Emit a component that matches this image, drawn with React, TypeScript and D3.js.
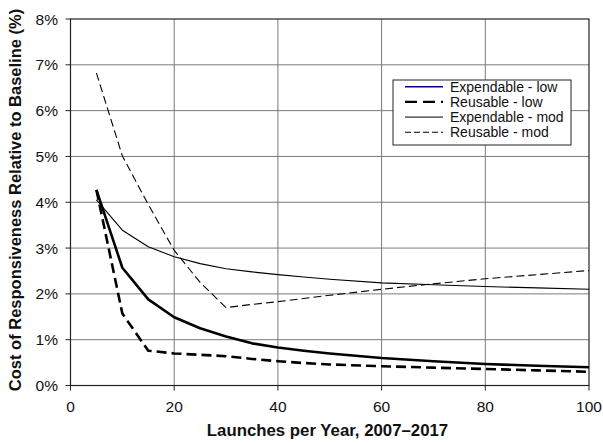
import React from "react";
import * as d3 from "d3";

// Launches per year (x) and cost of responsiveness (%) for each scenario
const launches = [5, 10, 15, 20, 25, 30, 35, 40, 45, 50, 60, 70, 80, 90, 100];
const expendableLow = [4.27, 2.57, 1.88, 1.49, 1.25, 1.07, 0.92, 0.83, 0.76, 0.7, 0.6, 0.53, 0.47, 0.43, 0.4];
const reusableLow = [4.27, 1.57, 0.76, 0.7, 0.67, 0.64, 0.58, 0.53, 0.49, 0.46, 0.42, 0.39, 0.36, 0.33, 0.3];
const expendableMod = [4.05, 3.39, 3.03, 2.81, 2.66, 2.55, 2.48, 2.42, 2.37, 2.32, 2.24, 2.2, 2.16, 2.13, 2.1];
const reusableMod = [6.82, 5.01, 3.95, 2.95, 2.25, 1.7, 1.77, 1.83, 1.9, 1.97, 2.1, 2.22, 2.33, 2.42, 2.51];

const xTicks = [0, 20, 40, 60, 80, 100];
const yTicks = [0, 1, 2, 3, 4, 5, 6, 7, 8];

const seriesNames = ["Expendable - low", "Reusable - low", "Expendable - mod", "Reusable - mod"];

const W = 603;
const H = 444;
const left = 70.5;
const right = 589;
const top = 19;
const bottom = 385.5;

const FONT = "'Liberation Sans', Arial, sans-serif";

export default function App() {
  const x = d3.scaleLinear().domain([0, 100]).range([left, right]);
  const y = d3.scaleLinear().domain([0, 8]).range([bottom, top]);

  const line = d3
    .line<[number, number]>()
    .x((d) => x(d[0]))
    .y((d) => y(d[1]));

  const pts = (vals: number[]) => launches.map((l, i) => [l, vals[i]] as [number, number]);

  const series = [
    { name: seriesNames[0], vals: expendableLow, width: 2.6, dash: undefined as string | undefined, color: "#000", legendColor: "#000080", legendWidth: 1.5, legendDash: undefined as string | undefined },
    { name: seriesNames[1], vals: reusableLow, width: 2.6, dash: "10,5", color: "#000", legendColor: "#000", legendWidth: 2.4, legendDash: "12,6" },
    { name: seriesNames[2], vals: expendableMod, width: 1.1, dash: undefined, color: "#000", legendColor: "#333", legendWidth: 1.3, legendDash: undefined },
    { name: seriesNames[3], vals: reusableMod, width: 1.1, dash: "8,4", color: "#000", legendColor: "#000", legendWidth: 1.1, legendDash: "6,3" },
  ];

  const legX = 393;
  const legY = 80;
  const legW = 178;
  const legH = 65;

  return (
    <div style={{ position: "absolute", left: 0, top: 0 }}>
      <svg width={W} height={H} style={{ display: "block", background: "#fff" }} fontFamily={FONT}>
        <rect x={0} y={0} width={W} height={H} fill="#fff" />
        {/* grid */}
        {yTicks.slice(1, -1).map((t) => (
          <line key={"gy" + t} x1={left} x2={right} y1={y(t)} y2={y(t)} stroke="#7a7a7a" strokeWidth={1} />
        ))}
        {xTicks.slice(1, -1).map((t) => (
          <line key={"gx" + t} x1={x(t)} x2={x(t)} y1={top} y2={bottom} stroke="#7a7a7a" strokeWidth={1} />
        ))}
        {/* frame */}
        <rect x={left} y={top} width={right - left} height={bottom - top} fill="none" stroke="#222" strokeWidth={1.2} />
        {/* y ticks + labels */}
        {yTicks.map((t) => (
          <g key={"yt" + t}>
            <line x1={left - 5} x2={left} y1={y(t)} y2={y(t)} stroke="#222" strokeWidth={1} />
            <text x={58} y={y(t)} dy="0.36em" textAnchor="end" fontSize={15.5} fill="#111">
              {t + "%"}
            </text>
          </g>
        ))}
        {/* x ticks + labels */}
        {xTicks.map((t) => (
          <g key={"xt" + t}>
            <line x1={x(t)} x2={x(t)} y1={bottom} y2={bottom + 5} stroke="#222" strokeWidth={1} />
            <text x={x(t)} y={412} textAnchor="middle" fontSize={15.5} fill="#111">
              {t}
            </text>
          </g>
        ))}
        {/* series */}
        {series.map((s) => (
          <path
            key={s.name}
            d={line(pts(s.vals)) || ""}
            fill="none"
            stroke={s.color}
            strokeWidth={s.width}
            strokeDasharray={s.dash}
            strokeLinejoin="round"
          />
        ))}
        {/* axis titles */}
        <text x={327.5} y={436} textAnchor="middle" fontSize={16.8} fontWeight="bold" fill="#111">
          Launches per Year, 2007–2017
        </text>
        <text
          transform={`translate(20.5, 200) rotate(-90)`}
          textAnchor="middle"
          fontSize={16.5}
          fontWeight="bold"
          fill="#111"
        >
          Cost of Responsiveness Relative to Baseline (%)
        </text>
        {/* legend */}
        <rect x={legX} y={legY} width={legW} height={legH} fill="#fff" stroke="#222" strokeWidth={1} />
        {series.map((s, i) => {
          const ry = 86.7 + i * 15.2;
          return (
            <g key={"lg" + s.name}>
              <line
                x1={405}
                x2={443}
                y1={ry}
                y2={ry}
                stroke={s.legendColor}
                strokeWidth={s.legendWidth}
                strokeDasharray={s.legendDash}
              />
              <text x={450} y={ry} dy="0.36em" fontSize={14} fill="#111">
                {s.name}
              </text>
            </g>
          );
        })}
      </svg>
    </div>
  );
}
